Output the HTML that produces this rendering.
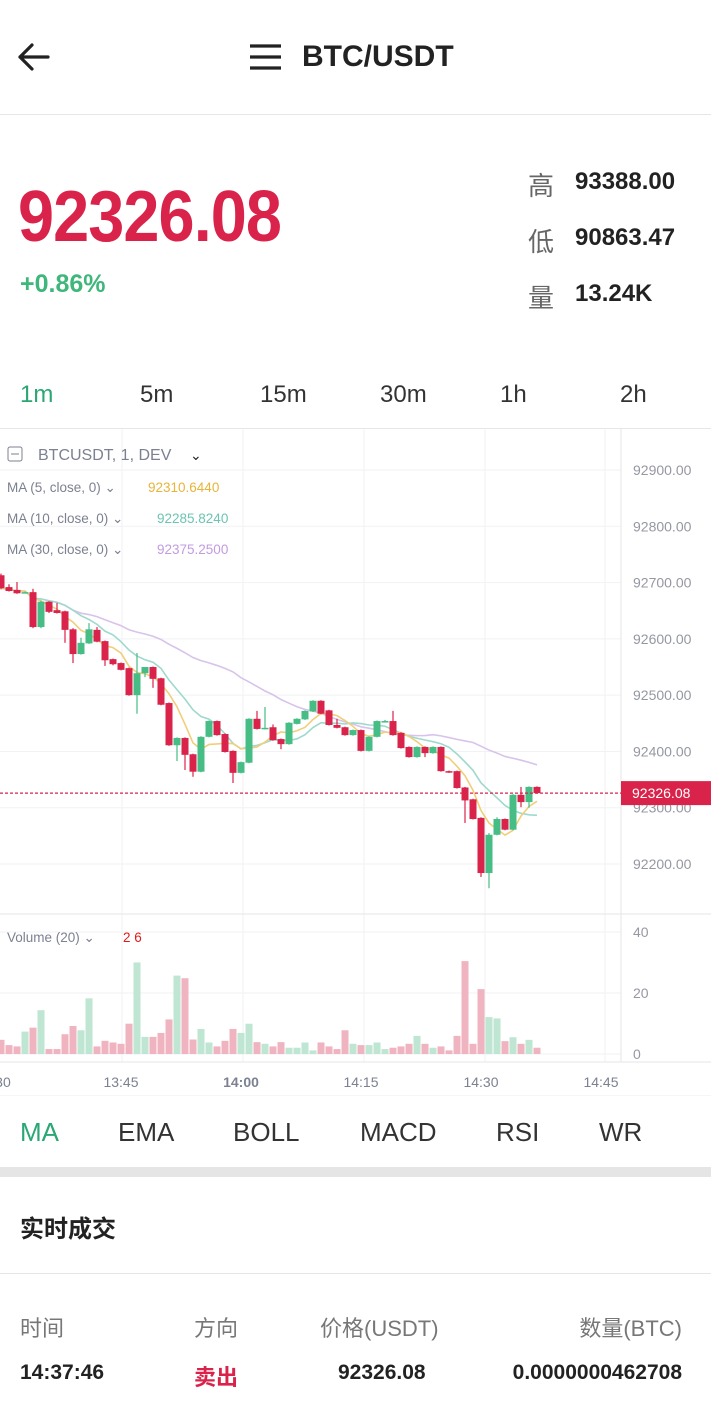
<!DOCTYPE html>
<html><head><meta charset="utf-8">
<style>
*{margin:0;padding:0;box-sizing:border-box}
body{width:724px;height:1412px;background:#fff;font-family:"Liberation Sans","Noto Sans CJK SC",sans-serif;position:relative;overflow:hidden;color:#222}
.abs{position:absolute;white-space:nowrap}
</style></head><body>
<div class="abs" style="left:16px;top:40px;width:36px;height:34px">
<svg width="36" height="34"><path d="M4 17 H32 M4 17 L16 5 M4 17 L16 29" stroke="#222" stroke-width="3.2" fill="none" stroke-linecap="round"/></svg></div>
<div class="abs" style="left:249px;top:43px;width:33px;height:28px">
<svg width="33" height="28"><path d="M1 3H32M1 14H32M1 25H32" stroke="#222" stroke-width="3.2"/></svg></div>
<div class="abs" style="left:302px;top:40px;font-size:30px;font-weight:bold">BTC/USDT</div>
<div class="abs" style="left:0;top:114px;width:711px;height:1px;background:#e6e6e6"></div>

<div class="abs" style="left:18px;top:176px;font-size:72px;font-weight:bold;color:#d9234a;letter-spacing:-1px;transform:scaleX(0.9);transform-origin:left top">92326.08</div>
<div class="abs" style="left:20px;top:270px;font-size:25px;font-weight:bold;color:#3fb67a">+0.86%</div>
<div class="abs" style="left:528px;top:166px;font-size:26px;color:#666">高</div>
<div class="abs" style="left:575px;top:168px;font-size:24px;font-weight:bold">93388.00</div>
<div class="abs" style="left:528px;top:222px;font-size:26px;color:#666">低</div>
<div class="abs" style="left:575px;top:224px;font-size:24px;font-weight:bold">90863.47</div>
<div class="abs" style="left:528px;top:278px;font-size:26px;color:#666">量</div>
<div class="abs" style="left:575px;top:280px;font-size:24px;font-weight:bold">13.24K</div>

<div class="abs" style="left:20px;top:381px;font-size:24px;color:#2aa774">1m</div>
<div class="abs" style="left:140px;top:381px;font-size:24px;color:#333">5m</div>
<div class="abs" style="left:260px;top:381px;font-size:24px;color:#333">15m</div>
<div class="abs" style="left:380px;top:381px;font-size:24px;color:#333">30m</div>
<div class="abs" style="left:500px;top:381px;font-size:24px;color:#333">1h</div>
<div class="abs" style="left:620px;top:381px;font-size:24px;color:#333">2h</div>
<div class="abs" style="left:0;top:428px;width:711px;height:1px;background:#e6e6e6"></div>

<svg class="abs" id="chart" style="left:0;top:429px" width="711" height="667" viewBox="0 429 711 667"></svg>

<div class="abs" style="left:20px;top:1117px;font-size:26px;color:#2aa774">MA</div>
<div class="abs" style="left:118px;top:1117px;font-size:26px;color:#333">EMA</div>
<div class="abs" style="left:233px;top:1117px;font-size:26px;color:#333">BOLL</div>
<div class="abs" style="left:360px;top:1117px;font-size:26px;color:#333">MACD</div>
<div class="abs" style="left:496px;top:1117px;font-size:26px;color:#333">RSI</div>
<div class="abs" style="left:599px;top:1117px;font-size:26px;color:#333">WR</div>
<div class="abs" style="left:0;top:1167px;width:711px;height:10px;background:#e5e5e5"></div>

<div class="abs" style="left:20px;top:1209px;font-size:24px;font-weight:bold">实时成交</div>
<div class="abs" style="left:0;top:1273px;width:711px;height:1px;background:#e6e6e6"></div>
<div class="abs" style="left:20px;top:1311px;font-size:22px;color:#777">时间</div>
<div class="abs" style="left:194px;top:1311px;font-size:22px;color:#777">方向</div>
<div class="abs" style="left:320px;top:1311px;font-size:22px;color:#777">价格(USDT)</div>
<div class="abs" style="right:42px;top:1311px;font-size:22px;color:#777">数量(BTC)</div>
<div class="abs" style="left:20px;top:1361px;font-size:21px;font-weight:bold">14:37:46</div>
<div class="abs" style="left:194px;top:1360px;font-size:22px;font-weight:bold;color:#d9234a">卖出</div>
<div class="abs" style="left:338px;top:1361px;font-size:21px;font-weight:bold">92326.08</div>
<div class="abs" style="right:42px;top:1361px;font-size:21px;font-weight:bold">0.0000000462708</div>

<script>
const opens=[92713,92692,92687,92683,92683,92621,92666,92651,92649,92617,92573,92592,92616,92596,92564,92557,92548,92500,92539,92550,92530,92486,92411,92424,92395,92364,92426,92454,92431,92401,92362,92380,92458,92440,92443,92422,92413,92449,92457,92471,92490,92473,92447,92443,92429,92438,92401,92426,92454,92454,92433,92408,92390,92408,92397,92408,92365,92365,92336,92315,92282,92184,92252,92280,92261,92323,92310,92337];
const closes=[92690,92685,92681,92683,92621,92666,92648,92646,92616,92573,92593,92617,92595,92562,92555,92545,92500,92539,92550,92529,92483,92411,92424,92394,92364,92426,92454,92429,92399,92362,92381,92458,92440,92442,92420,92413,92451,92458,92472,92490,92467,92447,92442,92429,92438,92401,92426,92454,92454,92429,92406,92390,92408,92397,92408,92365,92363,92335,92313,92280,92184,92252,92280,92261,92323,92310,92337,92326];
const highs=[92716,92697,92701,92684,92689,92668,92667,92664,92650,92619,92602,92628,92621,92597,92565,92558,92549,92575,92541,92551,92531,92487,92425,92425,92396,92427,92455,92455,92432,92402,92382,92459,92472,92479,92448,92423,92452,92459,92473,92491,92491,92474,92458,92444,92439,92439,92427,92455,92456,92472,92434,92409,92409,92409,92409,92409,92366,92366,92337,92316,92283,92255,92283,92281,92324,92337,92338,92338];
const lows=[92688,92684,92680,92682,92619,92619,92646,92645,92593,92557,92572,92591,92594,92552,92553,92544,92499,92467,92532,92513,92482,92410,92383,92367,92355,92363,92425,92428,92398,92344,92361,92379,92439,92439,92419,92404,92412,92448,92456,92470,92466,92446,92441,92428,92428,92400,92400,92425,92453,92428,92405,92389,92389,92390,92396,92364,92362,92334,92273,92279,92177,92157,92251,92260,92260,92301,92300,92325];
const volTops=[360,376,380,335,323,270,388,388,343,318,331,234,380,363,368,372,311,125,351,351,339,298,165,173,359,327,368,380,363,327,339,311,367,372,380,367,384,384,368,392,368,380,388,331,372,376,376,368,388,384,380,372,348,372,384,380,392,348,121,372,206,291,295,364,352,372,360,384];
const volumes=volTops.map(t=>Math.max(1,(403-t)*0.108));
const priceTicks=[92900,92800,92700,92600,92500,92400,92300,92200];
const volTicks=[40,20,0];
const timeLabels=[":30","13:45","14:00","14:15","14:30","14:45"];
const timeIdx=[0,15,30,45,60,75];

const NS="http://www.w3.org/2000/svg";
const svg=document.getElementById('chart');
const X=i=>1+8*i;
const Y=p=>470+(92900-p)*0.5629;
const VY=v=>1054-v*3.05;
function mk(tag,attrs,parent){const e=document.createElementNS(NS,tag);for(const k in attrs)e.setAttribute(k,attrs[k]);(parent||svg).appendChild(e);return e;}
for(const gx of [122,243,364,485,605]){
  const l=mk('line',{x1:gx,x2:gx,y1:429,y2:1062,stroke:'#f1f2f5','stroke-width':1});
  
  
}
priceTicks.forEach(p=>{
  const l=mk('line',{x1:0,x2:621,y1:Y(p),y2:Y(p),stroke:'#f1f2f5'});
  
  
  const t=mk('text',{x:633,y:Y(p)+5,'font-size':14,fill:'#9598a1','font-family':'Liberation Sans'});
  t.textContent=p.toFixed(2);
  
  
});
volTicks.forEach(v=>{
  const l=mk('line',{x1:0,x2:621,y1:VY(v),y2:VY(v),stroke:'#f1f2f5'});
  
  
  const t=mk('text',{x:633,y:VY(v)+5,'font-size':14,fill:'#9598a1','font-family':'Liberation Sans'});
  t.textContent=v;
  
  
});
mk('line',{x1:621,x2:621,y1:429,y2:1062,stroke:'#e6e6e6'});
mk('line',{x1:0,x2:711,y1:914,y2:914,stroke:'#e6e6e6'});
mk('line',{x1:0,x2:711,y1:1062,y2:1062,stroke:'#e6e6e6'});
mk('line',{x1:0,x2:711,y1:1096,y2:1096,stroke:'#eeeeee'});
volumes.forEach((v,i)=>{
  const up=closes[i]>=opens[i];
  const r=mk('rect',{x:X(i)-3.5,y:VY(v),width:7,height:1054-VY(v),fill:up?'#bfe6d3':'#f0b3c0'});
  
  
});
function ma(n){return closes.map((c,i)=>{const s=closes.slice(Math.max(0,i-n+1),i+1);return s.reduce((a,b)=>a+b,0)/s.length;});}
[[30,'#d8c3ea'],[10,'#9fd9cc'],[5,'#f0cf7a']].forEach(([n,c])=>{
  const m=ma(n);
  const pl=mk('polyline',{points:m.map((v,i)=>X(i)+','+Y(v)).join(' '),fill:'none',stroke:c,'stroke-width':1.6});
  
  
});
opens.forEach((o,i)=>{
  const c=closes[i],up=c>=o,col=up?'#46bd84':'#d9234a';
  const w=mk('line',{x1:X(i),x2:X(i),y1:Y(highs[i]),y2:Y(lows[i]),stroke:col,'stroke-width':1.2});
  
  
  const top=Y(Math.max(o,c)),h=Math.max(1.5,Math.abs(Y(o)-Y(c)));
  const b=mk('rect',{x:X(i)-3.5,y:top,width:7,height:h,fill:col});
  
  
});
const last=closes[closes.length-1];
const dl=mk('line',{x1:0,x2:621,y1:Y(last),y2:Y(last),stroke:'#d9234a','stroke-dasharray':'3,2','stroke-width':1.2});


const lb=mk('rect',{x:621,y:Y(last)-12,width:90,height:24,fill:'#d9234a'});


const lt=mk('text',{x:632,y:Y(last)+5,'font-size':14,fill:'#fff','font-family':'Liberation Sans'});
lt.textContent='92326.08';
timeLabels.forEach((s,k)=>{
  const t=mk('text',{x:X(timeIdx[k]),y:1087,'font-size':14,fill:'#7c8191','text-anchor':'middle','font-family':'Liberation Sans','font-weight':s==='14:00'?'bold':'normal'});
  t.textContent=s;
  
  
});
function txt(x,y,s,fill,size,name){const t=mk('text',{x,y,'font-size':size,fill,'font-family':'Liberation Sans'});t.textContent=s;return t;}
mk('rect',{x:8,y:447,width:14,height:14,rx:2,fill:'none',stroke:'#7c8191'});
mk('line',{x1:11,x2:19,y1:454,y2:454,stroke:'#7c8191'});
txt(38,460,'BTCUSDT, 1, DEV','#7c8191',16,'symbol-legend');
txt(190,460,'⌄','#222',14,'legend-caret');
txt(7,492,'MA (5, close, 0)  ⌄','#7c8191',13.5,'ma5-legend');
txt(148,492,'92310.6440','#e8b43a',13.5,'ma5-value');
txt(7,523,'MA (10, close, 0)  ⌄','#7c8191',13.5,'ma10-legend');
txt(157,523,'92285.8240','#6cc4b2',13.5,'ma10-value');
txt(7,554,'MA (30, close, 0)  ⌄','#7c8191',13.5,'ma30-legend');
txt(157,554,'92375.2500','#c39be0',13.5,'ma30-value');
txt(7,942,'Volume (20)  ⌄','#7c8191',13.5,'volume-legend');
txt(123,942,'2 6','#e01b1b',13.5,'volume-value');
</script>
</body></html>
